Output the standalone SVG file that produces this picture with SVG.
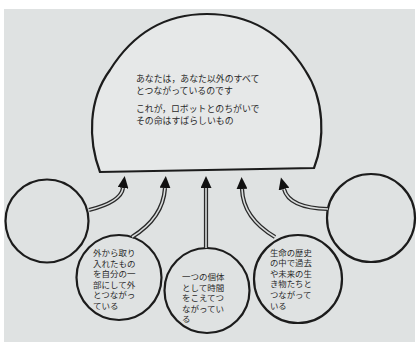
<svg xmlns="http://www.w3.org/2000/svg" width="417" height="347" viewBox="0 0 417 347">
  <defs>
    <style>
      .shape { fill: none; stroke: #1c1c1c; stroke-width: 2.2; }
      .shaft { fill: none; stroke: #2a2a2a; stroke-width: 4.2; }
      .inner { fill: none; stroke: #d9dcdc; stroke-width: 1.6; }
      .t { font-family: "Noto Sans CJK JP", "Noto Sans", sans-serif; font-size: 8.5px; fill: #2a2a2a; }
      .tr { font-family: "Noto Sans CJK JP", "Noto Sans", sans-serif; font-size: 8.4px; fill: #2a2a2a; }
      .td { font-family: "Noto Sans CJK JP", "Noto Sans", sans-serif; font-size: 8.9px; fill: #2a2a2a; }
    </style>
    <marker id="head" markerUnits="userSpaceOnUse" markerWidth="12" markerHeight="11" refX="0" refY="5.5" orient="auto" viewBox="0 0 12 11">
      <path d="M0,0 L12,5.5 L0,11 Z" fill="#111"/>
    </marker>
  </defs>
  <rect x="0" y="0" width="417" height="347" fill="#ffffff"/>
  <rect x="4" y="9" width="411" height="333" fill="#dfe2e2"/>

  <g id="dome">
    <path class="shape" style="fill:#e6e8e8" d="M100,172 C88,140 88,100 110,70 C135,30 170,14 207,14 C245,14 280,30 305,70 C325,100 325,140 314,168 Z"/>
    <text class="td"><tspan x="136" y="82">あなたは，あなた以外のすべて</tspan><tspan x="136" y="94">とつながっているのです</tspan></text>
    <text class="td"><tspan x="136" y="112">これが，ロボットとのちがいで</tspan><tspan x="136" y="124">その命はすばらしいもの</tspan></text>
  </g>

  <g id="circle-left">
    <circle class="shape" cx="47" cy="221" r="41.5"/>
  </g>
  <g id="circle-right">
    <circle class="shape" cx="371" cy="218" r="44"/>
  </g>
  <g id="circle-bottom-left">
    <circle class="shape" cx="119" cy="277.5" r="42.5"/>
    <text class="t"><tspan x="93" y="256">外から取り</tspan><tspan x="93" y="266.5">入れたもの</tspan><tspan x="93" y="277">を自分の一</tspan><tspan x="93" y="287.5">部にして外</tspan><tspan x="93" y="298">とつながっ</tspan><tspan x="93" y="308.5">ている</tspan></text>
  </g>
  <g id="circle-bottom-middle">
    <circle class="shape" cx="207" cy="290.5" r="42.5"/>
    <text class="t"><tspan x="182" y="280">一つの個体</tspan><tspan x="182" y="290.5">として時間</tspan><tspan x="182" y="301">をこえてつ</tspan><tspan x="182" y="311.5">ながってい</tspan><tspan x="182" y="322">る</tspan></text>
  </g>
  <g id="circle-bottom-right">
    <circle class="shape" cx="298" cy="279" r="44"/>
    <text class="tr"><tspan x="270" y="255.5">生命の歴史</tspan><tspan x="270" y="266.1">の中で過去</tspan><tspan x="270" y="276.7">や未来の生</tspan><tspan x="270" y="287.3">き物たちと</tspan><tspan x="270" y="297.9">つながって</tspan><tspan x="270" y="308.5">いる</tspan></text>
  </g>

  <g id="connectors">
    <path class="shaft" marker-end="url(#head)" d="M89,210 Q121,202 123,188"/>
    <path class="inner" d="M89,210 Q121,202 123,188"/>
    <path class="shaft" marker-end="url(#head)" d="M132,237 Q163,218 165,188"/>
    <path class="inner" d="M132,237 Q163,218 165,188"/>
    <path class="shaft" marker-end="url(#head)" d="M206,248 L206,188"/>
    <path class="inner" d="M206,248 L206,188"/>
    <path class="shaft" marker-end="url(#head)" d="M275,237 Q243,218 242,189"/>
    <path class="inner" d="M275,237 Q243,218 242,189"/>
    <path class="shaft" marker-end="url(#head)" d="M328,209 Q289,208 284,189"/>
    <path class="inner" d="M328,209 Q289,208 284,189"/>
  </g>
</svg>
